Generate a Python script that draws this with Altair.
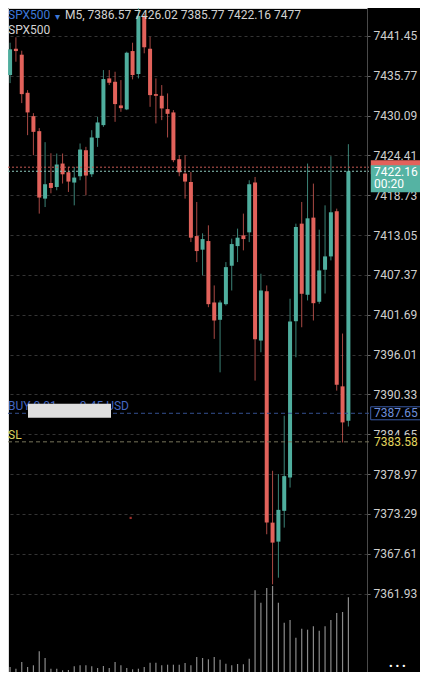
import altair as alt
import pandas as pd

# ---------------- data ----------------
candle_index = list(range(-1, 59))
opens = [7439.45, 7435.88, 7439.63, 7438.78, 7433.35, 7430.02, 7427.88, 7418.26, 7420.49, 7419.92,
         7423.26, 7422.02, 7420.55, 7421.45, 7425.16, 7421.73, 7426.92, 7428.74, 7435.40, 7434.92,
         7431.55, 7430.98, 7439.30, 7436.02, 7444.21, 7439.63, 7433.16, 7432.92, 7431.02, 7430.55,
         7423.88, 7421.83, 7420.63, 7412.92, 7410.98, 7412.21, 7403.45, 7400.98, 7403.21, 7408.69,
         7411.49, 7413.02, 7413.45, 7420.55, 7398.02, 7405.06, 7372.06, 7369.35, 7373.74, 7378.49,
         7400.78, 7414.69, 7404.55, 7415.55, 7403.55, 7408.12, 7410.02, 7416.45, 7391.49, 7386.57]
highs = [7440.16, 7440.49, 7441.26, 7439.35, 7433.73, 7430.45, 7428.31, 7426.31, 7424.73, 7424.69,
         7424.69, 7422.78, 7422.78, 7426.12, 7425.64, 7428.02, 7429.92, 7436.59, 7436.59, 7436.35,
         7435.16, 7439.21, 7440.49, 7446.16, 7444.59, 7441.35, 7435.40, 7434.45, 7433.26, 7430.88,
         7424.45, 7424.45, 7422.06, 7417.78, 7413.31, 7414.45, 7405.88, 7403.74, 7409.21, 7412.55,
         7413.98, 7416.12, 7420.88, 7421.35, 7407.55, 7405.88, 7379.45, 7378.98, 7387.30, 7403.98,
         7414.69, 7417.78, 7423.26, 7420.40, 7413.83, 7417.30, 7424.31, 7416.83, 7399.02, 7426.02]
lows = [7435.16, 7434.73, 7437.78, 7431.88, 7427.31, 7424.45, 7416.12, 7417.06, 7419.02, 7419.45,
        7420.41, 7419.21, 7417.30, 7420.88, 7418.73, 7421.35, 7425.64, 7428.49, 7434.45, 7429.21,
        7430.64, 7430.88, 7435.26, 7435.40, 7438.98, 7431.35, 7428.98, 7429.45, 7426.98, 7423.45,
        7421.45, 7418.26, 7412.06, 7409.21, 7407.31, 7402.78, 7398.26, 7393.49, 7403.02, 7405.16,
        7409.21, 7410.88, 7412.06, 7392.31, 7396.35, 7370.40, 7363.26, 7364.21, 7371.35, 7377.06,
        7395.64, 7399.92, 7403.74, 7400.88, 7403.26, 7404.73, 7409.45, 7390.88, 7383.49, 7385.77]
closes = [7435.88, 7439.55, 7439.30, 7433.16, 7430.55, 7427.78, 7418.41, 7420.31, 7419.78, 7423.12,
          7421.73, 7420.69, 7421.26, 7425.26, 7421.55, 7426.98, 7429.12, 7435.31, 7434.78, 7431.74,
          7431.16, 7439.06, 7435.88, 7444.31, 7439.84, 7433.02, 7432.92, 7431.12, 7430.35, 7423.74,
          7422.02, 7420.69, 7412.69, 7410.78, 7412.49, 7403.21, 7400.88, 7403.45, 7408.49, 7411.78,
          7412.69, 7412.49, 7420.31, 7398.21, 7405.16, 7372.06, 7369.21, 7373.88, 7378.69, 7400.74,
          7414.21, 7404.69, 7415.45, 7403.35, 7408.02, 7410.02, 7416.31, 7391.73, 7386.35, 7422.16]
volumes = [600, 500, 330, 1000, 500, 670, 2070, 1400, 330, 330,
           170, 200, 570, 670, 670, 570, 400, 600, 400, 1000,
           670, 400, 270, 330, 500, 930, 930, 670, 730, 730,
           730, 900, 670, 1500, 1400, 1270, 1500, 1230, 830, 670,
           800, 770, 1330, 8170, 6930, 8400, 8600, 6930, 4930, 5200,
           3430, 4330, 4230, 4570, 4130, 4570, 5200, 5900, 6000, 7477]

axis_levels = [7441.45, 7435.77, 7430.09, 7424.41, 7418.73, 7413.05, 7407.37, 7401.69,
               7396.01, 7390.33, 7384.65, 7378.97, 7373.29, 7367.61, 7361.93]
time_grid = [2, 10, 18, 26, 34, 42, 50, 58]

symbol = "SPX500"
timeframe = "M5"
bid_price = 7422.16
ask_price = 7422.74
countdown = "00:20"
buy_price = 7387.65
sl_price = 7383.58
buy_left = "BUY 0.01,"
buy_right = "-0.45 USD"
marker_k = [20.67]
marker_price = [7372.73]

# ---------------- styling ----------------
BULL = "#4fae9e"
BEAR = "#e2625b"
GRID = "#343434"
W, H = 359, 664
FONT = "Roboto"

df = pd.DataFrame({"k": candle_index, "open": opens, "high": highs,
                   "low": lows, "close": closes, "volume": volumes})

xscale = alt.Scale(domain=[0.5, 60.3333], nice=False, zero=False)
yscale = alt.Scale(domain=[7350.76, 7445.44], nice=False, zero=False)
vscale = alt.Scale(domain=[0, 66400], nice=False, zero=True)

xaxis = alt.Axis(values=time_grid, labels=False, ticks=False, domain=False, grid=True,
                 gridColor=GRID, gridDash=[3, 3], gridWidth=1, title=None)
yaxis = alt.Axis(orient="right", values=axis_levels, format=".2f", labelColor="#cfcfcf",
                 labelFont=FONT, labelFontSize=12, labelPadding=3, tickSize=3,
                 tickColor="#666666", domainColor="#4a4a4a", domainWidth=1, grid=True,
                 gridColor=GRID, gridDash=[3, 3], labelOverlap=False, labelFlush=False,
                 title=None)

cond = alt.condition("datum.close >= datum.open", alt.value(BULL), alt.value(BEAR))

vol = alt.Chart(df).mark_bar(size=1.2, color="#8a8a8a", clip=True).encode(
    x=alt.X("k:Q", scale=xscale, axis=xaxis),
    y=alt.Y("volume:Q", scale=vscale, axis=None),
)

wick = alt.Chart(df).mark_rule(strokeWidth=1, opacity=0.75, clip=True).encode(
    x=alt.X("k:Q", scale=xscale, axis=None),
    y=alt.Y("low:Q", scale=yscale, axis=yaxis),
    y2="high:Q",
    color=cond,
)

body = alt.Chart(df).mark_bar(size=4, clip=True).encode(
    x=alt.X("k:Q", scale=xscale, axis=None),
    y=alt.Y("open:Q", scale=yscale, axis=None),
    y2="close:Q",
    color=cond,
)

marker = alt.Chart(pd.DataFrame({"k": marker_k, "p": marker_price})).mark_point(
    shape="square", size=5, filled=True, color="#9a2f29", opacity=1).encode(
    x=alt.X("k:Q", scale=xscale, axis=None),
    y=alt.Y("p:Q", scale=yscale, axis=None),
)


def pdata(p):
    return alt.Chart(pd.DataFrame({"p": [p]}))


def hline(p, color, dash):
    return pdata(p).mark_rule(color=color, strokeDash=dash, strokeWidth=1).encode(
        y=alt.Y("p:Q", scale=yscale, axis=None), x=alt.value(0), x2=alt.value(361))


def box(p, w, h, xc, fill, stroke=None, yoff=0):
    r = h / w
    path = f"M-1,{-r:.4f}H1V{r:.4f}H-1Z"
    return pdata(p).mark_point(shape=path, size=w * w, filled=True, fill=fill,
                               stroke=stroke if stroke else fill,
                               strokeWidth=1 if stroke else 0, opacity=1,
                               yOffset=yoff).encode(
        y=alt.Y("p:Q", scale=yscale, axis=None), x=alt.value(xc))


def ptext(p, txt, x, color, dy=0, align="left", size=12):
    return alt.Chart(pd.DataFrame({"p": [p], "t": [txt]})).mark_text(
        align=align, baseline="middle", font=FONT, fontSize=size, color=color, dy=dy).encode(
        y=alt.Y("p:Q", scale=yscale, axis=None), x=alt.value(x), text="t:N")


def ftext(txt, x, y, color, size=12, baseline="top"):
    return alt.Chart(pd.DataFrame({"t": [txt]})).mark_text(
        align="left", baseline=baseline, font=FONT, fontSize=size, color=color).encode(
        x=alt.value(x), y=alt.value(y), text="t:N")


ask_line = hline(ask_price, "#c65a54", [2, 2])
bid_line = hline(bid_price, "#8fc9bd", [2, 2])
buy_line = hline(buy_price, "#34508f", [4, 3])
sl_line = hline(sl_price, "#77745a", [4, 3])

ask_box = box(ask_price, 53, 14, 389.3, BEAR)
bid_box = box(bid_price, 53, 27, 389.3, "#55b3a3", yoff=7.5)
bid_txt = ptext(bid_price, f"{bid_price:.2f}", 366, "#ffffff", dy=1)
cd_txt = ptext(bid_price, countdown, 366, "#ffffff", dy=13)

buy_box = box(buy_price, 51, 13, 388.2, "#000000", stroke="#3b5ba5")
buy_txt = ptext(buy_price, f"{buy_price:.2f}", 366, "#6e8fdc")
sl_box = box(sl_price, 59, 13, 390.5, "#000000")
sl_txt = ptext(sl_price, f"{sl_price:.2f}", 366, "#e3d65e")

buy_l = ptext(buy_price, buy_left, 0, "#4467c0", dy=-7)
buy_r = ptext(buy_price, buy_right, 121, "#4467c0", dy=-7, align="right")
censor = box(buy_price, 83, 14, 61.5, "#dedede", yoff=-2.6)
sl_l = ptext(sl_price, "SL", 0, "#d9cf5a", dy=-7)

header_values = f"{timeframe}, {opens[-1]:.2f} {highs[-1]:.2f} {lows[-1]:.2f} {closes[-1]:.2f} {volumes[-1]}"
h1 = ftext(symbol, 0, 2, "#3d78d8")
h_arrow = ftext("▾", 47, 4, "#3d78d8", size=10)
h2 = ftext(header_values, 57, 2, "#d2d2d2")
h3 = ftext(symbol, 0, 17, "#d2d2d2")
dots = ftext("• • •", 381, 659, "#ffffff", size=11, baseline="middle")

chart = alt.layer(
    vol, wick, body, marker,
    ask_line, bid_line, buy_line, sl_line,
    ask_box, bid_box, bid_txt, cd_txt,
    buy_box, buy_txt, sl_box, sl_txt,
    buy_l, buy_r, censor, sl_l,
    h1, h_arrow, h2, h3, dots,
).resolve_scale(y="independent").properties(
    width=W, height=H,
    autosize=alt.AutoSizeParams(type="none"),
    padding={"left": 0, "top": 0, "right": 53, "bottom": 0},
    background="#000000",
).configure_view(strokeWidth=0).configure(font=FONT)

chart.save("out.html", embed_options={"renderer": "svg", "actions": False})
